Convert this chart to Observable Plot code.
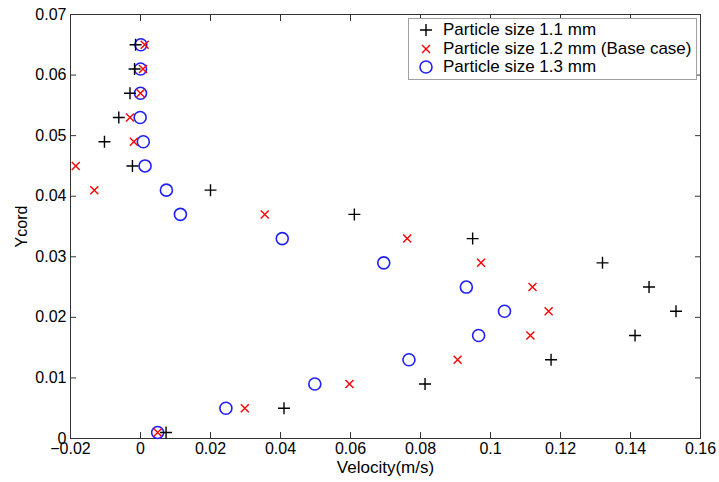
<!DOCTYPE html>
<html>
<head>
<meta charset="utf-8">
<script src="https://cdn.jsdelivr.net/npm/d3@7"></script>
<script src="https://cdn.jsdelivr.net/npm/@observablehq/plot@0.6"></script>
<style>
  html, body { margin: 0; padding: 0; background: #fff; }
  #wrap { position: relative; width: 719px; height: 482px; font-family: "Liberation Sans", Arial, sans-serif; }
  #legend { position: absolute; left: 408px; top: 18px; width: 289px; height: 62px; border: 1px solid #a0a0a0; background: #fff; box-sizing: border-box; }
  .row { position: absolute; left: 0; height: 20px; display: flex; align-items: center; font-size: 17px; color: #000; white-space: nowrap; }
  .row svg { margin-left: 10px; margin-right: 10px; }
</style>
</head>
<body>
<div id="wrap"></div>
<script>
// Y positions (m)
const ycord = [0.001, 0.005, 0.009, 0.013, 0.017, 0.021, 0.025, 0.029, 0.033, 0.037, 0.041, 0.045, 0.049, 0.053, 0.057, 0.061, 0.065];
// Velocities (m/s) per particle size
const vel11 = [0.0073, 0.041, 0.0813, 0.1173, 0.1413, 0.153, 0.1453, 0.132, 0.0949, 0.0611, 0.020, -0.0023, -0.0103, -0.0062, -0.003, -0.0017, -0.0014];
const vel12 = [0.0049, 0.0298, 0.0597, 0.0906, 0.1114, 0.1166, 0.112, 0.0973, 0.0762, 0.0355, -0.0132, -0.0185, -0.0019, -0.003, 0.0, 0.0007, 0.0012];
const vel13 = [0.0049, 0.0244, 0.0498, 0.0767, 0.0966, 0.104, 0.0931, 0.0695, 0.0405, 0.0114, 0.0074, 0.0013, 0.0008, -0.0001, 0.0, 0.0, 0.0001];
const seriesNames = ["Particle size 1.1 mm", "Particle size 1.2 mm (Base case)", "Particle size 1.3 mm"];
const xTicks = [-0.02, 0, 0.02, 0.04, 0.06, 0.08, 0.1, 0.12, 0.14, 0.16];
const xTickLabels = ["\u22120.02", "0", "0.02", "0.04", "0.06", "0.08", "0.1", "0.12", "0.14", "0.16"];
const yTicks = [0, 0.01, 0.02, 0.03, 0.04, 0.05, 0.06, 0.07];
const yTickLabels = ["0", "0.01", "0.02", "0.03", "0.04", "0.05", "0.06", "0.07"];

const toRows = (vs) => vs.map((v, i) => ({x: v, y: ycord[i]}));
const d11 = toRows(vel11), d12 = toRows(vel12), d13 = toRows(vel13);

const plusSym = {draw(ctx, size) { const r = Math.sqrt(size / Math.PI); ctx.moveTo(-r, 0); ctx.lineTo(r, 0); ctx.moveTo(0, -r); ctx.lineTo(0, r); }};
const timesSym = {draw(ctx, size) { const r = Math.sqrt(size / Math.PI); ctx.moveTo(-r, -r); ctx.lineTo(r, r); ctx.moveTo(-r, r); ctx.lineTo(r, -r); }};

const xFmt = (d) => xTickLabels[xTicks.findIndex(t => Math.abs(t - d) < 1e-9)];
const yFmt = (d) => yTickLabels[yTicks.findIndex(t => Math.abs(t - d) < 1e-9)];

const chart = Plot.plot({
  width: 719,
  height: 482,
  marginLeft: 70,
  marginRight: 19,
  marginTop: 14,
  marginBottom: 44,
  style: {fontFamily: "Liberation Sans, Arial, sans-serif", fontSize: "16px", background: "#fff", color: "#000"},
  x: {domain: [-0.02, 0.16]},
  y: {domain: [0, 0.07]},
  marks: [
    Plot.axisX({ticks: xTicks, tickSize: -6, text: null, anchor: "bottom", stroke: "#333", label: null}),
    Plot.axisX({ticks: xTicks, tickSize: -6, text: null, anchor: "top", stroke: "#333", label: null}),
    Plot.axisY({ticks: yTicks, tickSize: -6, text: null, anchor: "left", stroke: "#333", label: null}),
    Plot.axisY({ticks: yTicks, tickSize: -6, text: null, anchor: "right", stroke: "#333", label: null}),
    Plot.axisX({ticks: xTicks, tickSize: 0, tickPadding: 4, tickFormat: xFmt, anchor: "bottom", label: null, fontSize: 16, fill: "#000"}),
    Plot.axisY({ticks: yTicks, tickSize: 0, tickPadding: 4, tickFormat: yFmt, anchor: "left", label: null, fontSize: 16, fill: "#000"}),
    Plot.frame({stroke: "#333", strokeWidth: 1}),
    Plot.text(["Velocity(m/s)"], {frameAnchor: "bottom", dy: 29, lineAnchor: "middle", fontSize: 17, fill: "#000"}),
    Plot.text(["Ycord"], {frameAnchor: "left", dx: -49, rotate: -90, textAnchor: "middle", lineAnchor: "middle", fontSize: 16, fill: "#000"}),
    Plot.dot(d13, {x: "x", y: "y", symbol: "circle", r: 6, stroke: "#1f1fff", strokeWidth: 1.6, fill: "none"}),
    Plot.dot(d12, {x: "x", y: "y", symbol: timesSym, r: 4, stroke: "#ff0000", strokeWidth: 1.4, fill: "none"}),
    Plot.dot(d11, {x: "x", y: "y", symbol: plusSym, r: 6, stroke: "#000", strokeWidth: 1.4, fill: "none"})
  ]
});

const wrap = document.getElementById("wrap");
wrap.appendChild(chart);

const legend = document.createElement("div");
legend.id = "legend";
const markers = [
  '<svg width="14" height="14"><path d="M1,7H13M7,1V13" stroke="#000" stroke-width="1.4"/></svg>',
  '<svg width="14" height="14"><path d="M3,3L11,11M3,11L11,3" stroke="#f00" stroke-width="1.4"/></svg>',
  '<svg width="14" height="14"><circle cx="7" cy="7" r="6" fill="none" stroke="#1f1fff" stroke-width="1.6"/></svg>'
];
const tops = [1, 20, 38];
seriesNames.forEach((name, i) => {
  const row = document.createElement("div");
  row.className = "row";
  row.style.top = tops[i] + "px";
  row.innerHTML = markers[i] + "<span>" + name + "</span>";
  legend.appendChild(row);
});
wrap.appendChild(legend);
</script>
</body>
</html>
